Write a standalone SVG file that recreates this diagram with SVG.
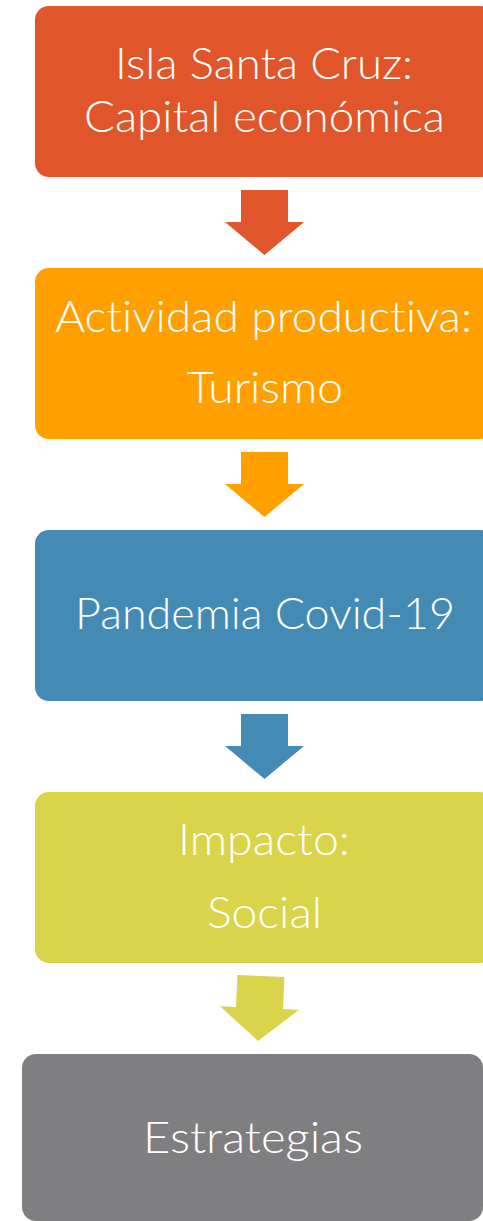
<svg xmlns="http://www.w3.org/2000/svg" width="483" height="1221" viewBox="0 0 483 1221">
<defs>
<style>
.t{font-family:Lato,"Open Sans","Noto Sans",sans-serif;font-size:44px;font-weight:300;font-variant-ligatures:none;fill:#ffffff;text-anchor:middle}
</style>
<path id="arr" d="M-23.5,-32 H23.5 V0 H39.5 L0,33 L-39.5,0 H-23.5 Z"/>
</defs>
<rect width="483" height="1221" fill="#ffffff"/>
<g id="node1">
<rect x="35" y="6" width="459" height="171" rx="14" fill="#E0552A"/>
<text class="t" x="264" y="79" textLength="298" lengthAdjust="spacingAndGlyphs">Isla Santa Cruz:</text>
<text class="t" x="264.5" y="132" textLength="361" lengthAdjust="spacingAndGlyphs">Capital económica</text>
</g>
<g id="node2">
<rect x="35" y="268" width="459" height="171" rx="14" fill="#FF9F00"/>
<text class="t" x="263.5" y="332" textLength="417" lengthAdjust="spacingAndGlyphs">Actividad productiva:</text>
<text class="t" x="265" y="403" textLength="156" lengthAdjust="spacingAndGlyphs">Turismo</text>
</g>
<g id="node3">
<rect x="35" y="530" width="459" height="171" rx="14" fill="#438BB5"/>
<text class="t" x="265" y="629" textLength="380" lengthAdjust="spacingAndGlyphs">Pandemia Covid-19</text>
</g>
<g id="node4">
<rect x="35" y="792" width="459" height="171" rx="14" fill="#D9D44A"/>
<text class="t" x="264" y="855" textLength="172" lengthAdjust="spacingAndGlyphs">Impacto:</text>
<text class="t" x="264.5" y="928" textLength="115" lengthAdjust="spacingAndGlyphs">Social</text>
</g>
<g id="node5">
<rect x="22" y="1054" width="461" height="167" rx="14" fill="#7F7F81"/>
<text class="t" x="253" y="1153" textLength="220" lengthAdjust="spacingAndGlyphs">Estrategias</text>
</g>
<g id="connectors">
<use href="#arr" transform="translate(264.5,222)" fill="#E0552A"/>
<use href="#arr" transform="translate(264.5,484)" fill="#FF9F00"/>
<use href="#arr" transform="translate(264.5,746)" fill="#438BB5"/>
<use href="#arr" transform="translate(259.5,1008) rotate(2.5)" fill="#D9D44A"/>
</g>
</svg>
